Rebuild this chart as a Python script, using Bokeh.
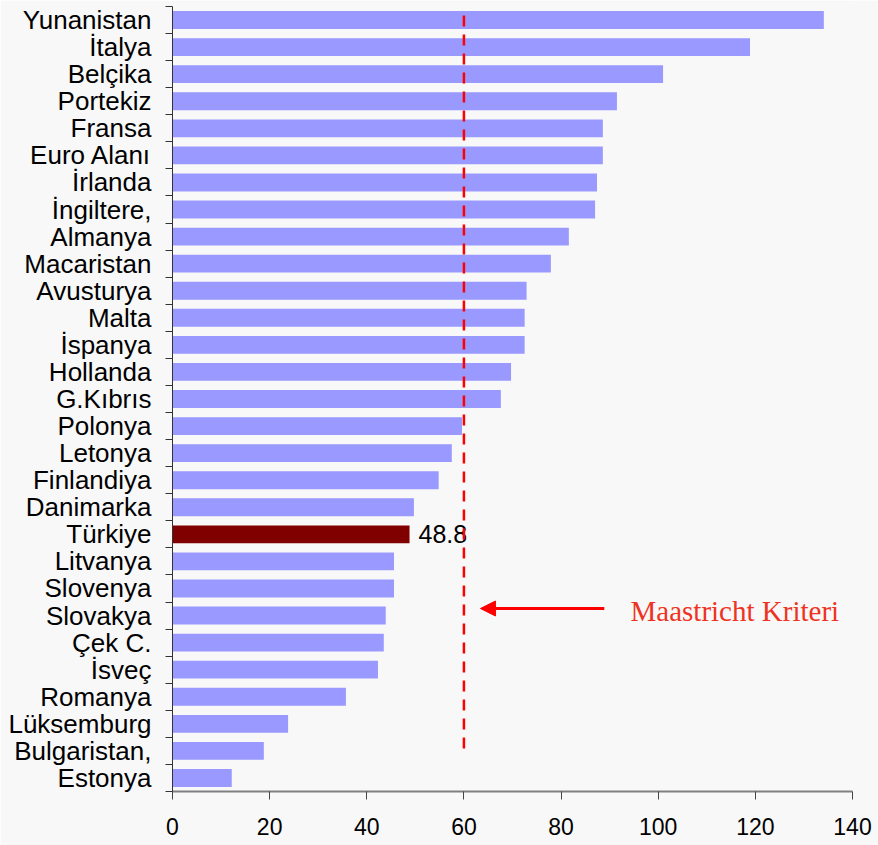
from bokeh.plotting import figure
from bokeh.models import Range1d, FixedTicker, Arrow, NormalHead, Label, ColumnDataSource
from bokeh.core.properties import value
from bokeh.embed import file_html
from bokeh.resources import INLINE

countries = ["Yunanistan", "İtalya", "Belçika", "Portekiz", "Fransa", "Euro Alanı",
             "İrlanda", "İngiltere,", "Almanya", "Macaristan", "Avusturya", "Malta",
             "İspanya", "Hollanda", "G.Kıbrıs", "Polonya", "Letonya", "Finlandiya",
             "Danimarka", "Türkiye", "Litvanya", "Slovenya", "Slovakya", "Çek C.",
             "İsveç", "Romanya", "Lüksemburg", "Bulgaristan,", "Estonya"]
debt = [134.1, 118.9, 101.0, 91.5, 88.6, 88.6, 87.4, 87.0, 81.6, 77.9, 72.9, 72.5,
        72.5, 69.7, 67.6, 59.6, 57.5, 54.8, 49.7, 48.8, 45.6, 45.6, 43.9, 43.5,
        42.3, 35.7, 23.8, 18.8, 12.2]
highlight = "Türkiye"
criterion = 60
x_ticks = [0, 20, 40, 60, 80, 100, 120, 140]
annotation_text = "Maastricht Kriteri"

BAR = "#9999ff"
HL = "#800000"
BG = "#f8f8f8"

n = len(countries)
ypos = [n - i - 0.5 for i in range(n)]
colors = [HL if c == highlight else BAR for c in countries]
src = ColumnDataSource(dict(y=ypos, v=debt, c=colors, name=countries))

p = figure(width=878, height=845, output_backend="svg", toolbar_location=None,
           x_range=Range1d(0, 140), y_range=Range1d(0, n),
           min_border_left=172, min_border_right=26, min_border_top=6, min_border_bottom=54,
           background_fill_color=BG, border_fill_color=BG)
p.outline_line_color = None
p.xgrid.visible = False
p.ygrid.visible = False

p.hbar(y="y", right="v", left=0, height=0.66, fill_color="c", line_color=None, source=src)

# Türkiye value label
hi = countries.index(highlight)
p.text(x=[debt[hi]], y=[ypos[hi]], text=[f"{debt[hi]:.1f}"], x_offset=9,
       text_baseline="middle", text_align="left", text_font=value("Liberation Sans"),
       text_font_size="25px", text_color="black")

# Maastricht criterion line
p.segment(x0=[criterion], x1=[criterion], y0=[1.59], y1=[n - 0.15],
          line_color="#ff0000", line_width=2.5, line_dash="11 8")

p.add_layout(Arrow(end=NormalHead(size=15, fill_color="#ff0000", line_color="#ff0000"),
                   x_start=88.9, y_start=6.76, x_end=63.4, y_end=6.76,
                   line_color="#ff0000", line_width=3))
p.add_layout(Label(x=94.3, y=6.65, text=annotation_text, text_baseline="middle",
                   text_font="Liberation Serif", text_font_size="29px",
                   text_color="#ee3322"))

# x axis
p.xaxis.ticker = FixedTicker(ticks=x_ticks)
p.xaxis.axis_line_color = "#808080"
p.xaxis.axis_line_width = 2
p.xaxis.major_tick_line_color = "#444444"
p.xaxis.major_tick_in = 0
p.xaxis.major_tick_out = 8
p.xaxis.minor_tick_line_color = None
p.xaxis.major_label_standoff = 18
p.xaxis.major_label_text_font = "Liberation Sans"
p.xaxis.major_label_text_font_size = "23px"
p.xaxis.major_label_text_color = "black"

# y axis: labels at bar centres, tick marks at category boundaries
p.yaxis.ticker = FixedTicker(ticks=ypos, minor_ticks=list(range(n + 1)))
p.yaxis.major_label_overrides = {y: c for y, c in zip(ypos, countries)}
p.yaxis.axis_line_color = "#333333"
p.yaxis.major_tick_line_color = None
p.yaxis.major_tick_in = 0
p.yaxis.major_tick_out = 0
p.yaxis.minor_tick_line_color = "#333333"
p.yaxis.minor_tick_in = 0
p.yaxis.minor_tick_out = 7
p.yaxis.major_label_standoff = 14
p.yaxis.major_label_text_font = "Liberation Sans"
p.yaxis.major_label_text_font_size = "26px"
p.yaxis.major_label_text_color = "black"

open("out.html", "w").write(file_html(p, INLINE))
